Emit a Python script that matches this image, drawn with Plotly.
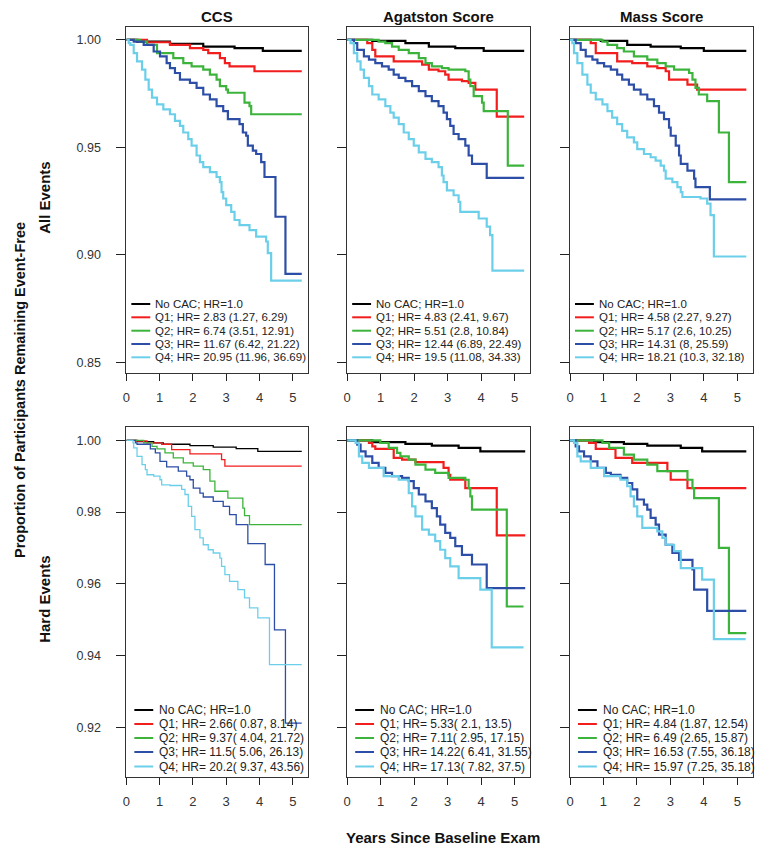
import plotly.graph_objects as go

# Kaplan-Meier style step curves: (years, proportion event-free)
# ---- All events ----
all_ccs_nocac = [(0, 1.0), (0.32, 0.9992), (1.31, 0.9982), (2.31, 0.9969), (3.25, 0.9962), (4.10, 0.9949), (5.27, 0.9949)]
all_ccs_q1 = [(0, 1.0), (0.62, 0.9989), (1.31, 0.9977), (1.91, 0.9962), (2.31, 0.9954), (2.46, 0.9938), (2.81, 0.9915),
              (2.96, 0.9892), (3.10, 0.9877), (3.85, 0.9854), (5.27, 0.9854)]
all_ccs_q2 = [(0, 1.0), (0.42, 0.9992), (0.62, 0.9977), (0.92, 0.9938), (1.41, 0.9915), (1.71, 0.9892), (1.96, 0.9877),
              (2.31, 0.9862), (2.51, 0.9838), (2.71, 0.9815), (2.81, 0.9785), (3.00, 0.9769), (3.05, 0.9754),
              (3.55, 0.9708), (3.70, 0.9692), (3.75, 0.9654), (5.27, 0.9654)]
all_ccs_q3 = [(0, 1.0), (0.22, 0.9992), (0.52, 0.9977), (0.82, 0.9946), (1.01, 0.9923), (1.21, 0.9892), (1.31, 0.9869),
              (1.46, 0.9846), (1.61, 0.9815), (1.91, 0.9800), (2.11, 0.9777), (2.31, 0.9746), (2.51, 0.9723),
              (2.71, 0.9692), (2.91, 0.9669), (3.05, 0.9631), (3.40, 0.9608), (3.50, 0.9569), (3.60, 0.9554),
              (3.65, 0.9508), (3.80, 0.9485), (3.90, 0.9469), (4.05, 0.9431), (4.15, 0.9362), (4.48, 0.9177),
              (4.78, 0.8911), (5.27, 0.8911)]
all_ccs_q4 = [(0, 1.0), (0.07, 0.9985), (0.12, 0.9977), (0.22, 0.9938), (0.32, 0.9900), (0.47, 0.9862), (0.57, 0.9815),
              (0.67, 0.9769), (0.77, 0.9731), (0.92, 0.9700), (1.11, 0.9677), (1.31, 0.9654), (1.46, 0.9623),
              (1.61, 0.9600), (1.71, 0.9569), (1.86, 0.9538), (1.96, 0.9508), (2.11, 0.9462), (2.21, 0.9431),
              (2.31, 0.9408), (2.51, 0.9385), (2.71, 0.9362), (2.81, 0.9338), (2.86, 0.9292), (2.91, 0.9262),
              (3.00, 0.9231), (3.15, 0.9200), (3.25, 0.9162), (3.40, 0.9138), (3.70, 0.9115), (3.90, 0.9085),
              (4.20, 0.9062), (4.25, 0.9008), (4.35, 0.8880), (5.27, 0.8880)]

all_aga_nocac = [(0, 1.0), (0.75, 0.9995), (1.74, 0.9985), (2.44, 0.9969), (3.23, 0.9962), (4.08, 0.9949), (5.29, 0.9949)]
all_aga_q1 = [(0, 1.0), (0.60, 0.9985), (0.75, 0.9954), (0.84, 0.9923), (1.39, 0.9900), (2.24, 0.9885), (2.44, 0.9862),
              (2.73, 0.9854), (2.93, 0.9838), (3.03, 0.9815), (3.43, 0.9808), (3.63, 0.9800), (3.83, 0.9769),
              (4.47, 0.9643), (5.29, 0.9643)]
all_aga_q2 = [(0, 1.0), (0.94, 0.9992), (1.14, 0.9985), (1.34, 0.9969), (1.54, 0.9954), (1.84, 0.9938), (2.14, 0.9915),
              (2.34, 0.9892), (2.53, 0.9877), (2.83, 0.9869), (3.03, 0.9862), (3.53, 0.9854), (3.63, 0.9815),
              (3.68, 0.9785), (3.78, 0.9738), (4.03, 0.9708), (4.08, 0.9669), (4.80, 0.9415), (5.29, 0.9415)]
all_aga_q3 = [(0, 1.0), (0.20, 0.9985), (0.30, 0.9954), (0.50, 0.9923), (0.65, 0.9908), (0.84, 0.9892), (1.04, 0.9877),
              (1.24, 0.9862), (1.39, 0.9838), (1.54, 0.9823), (1.74, 0.9808), (1.94, 0.9785), (2.14, 0.9762),
              (2.34, 0.9738), (2.53, 0.9715), (2.73, 0.9692), (2.88, 0.9662), (2.98, 0.9631), (3.08, 0.9600),
              (3.18, 0.9562), (3.33, 0.9538), (3.53, 0.9508), (3.63, 0.9462), (3.73, 0.9423), (4.17, 0.9358),
              (5.29, 0.9358)]
all_aga_q4 = [(0, 1.0), (0.10, 0.9985), (0.20, 0.9938), (0.30, 0.9900), (0.40, 0.9862), (0.50, 0.9823), (0.65, 0.9785),
              (0.75, 0.9746), (0.94, 0.9723), (1.14, 0.9692), (1.29, 0.9662), (1.39, 0.9638), (1.54, 0.9608),
              (1.69, 0.9569), (1.84, 0.9538), (1.99, 0.9508), (2.14, 0.9477), (2.34, 0.9446), (2.53, 0.9431),
              (2.73, 0.9408), (2.83, 0.9369), (2.88, 0.9338), (2.98, 0.9300), (3.18, 0.9277), (3.33, 0.9246),
              (3.38, 0.9200), (3.93, 0.9169), (4.17, 0.9131), (4.27, 0.9092), (4.34, 0.8926), (5.29, 0.8926)]

all_mass_nocac = [(0, 1.0), (0.92, 0.9995), (1.71, 0.9977), (2.41, 0.9969), (3.31, 0.9962), (4.00, 0.9949), (5.27, 0.9949)]
all_mass_q1 = [(0, 1.0), (0.62, 0.9985), (0.77, 0.9938), (1.41, 0.9900), (1.86, 0.9892), (2.31, 0.9877), (2.61, 0.9869),
               (2.86, 0.9854), (2.96, 0.9815), (3.51, 0.9792), (3.80, 0.9769), (5.27, 0.9769)]
all_mass_q2 = [(0, 1.0), (0.97, 0.9992), (1.12, 0.9977), (1.41, 0.9962), (1.61, 0.9946), (1.91, 0.9923), (2.31, 0.9908),
               (2.61, 0.9892), (2.86, 0.9877), (3.11, 0.9862), (3.56, 0.9846), (3.66, 0.9815), (3.75, 0.9777),
               (3.85, 0.9746), (4.10, 0.9715), (4.45, 0.9569), (4.75, 0.9338), (5.27, 0.9338)]
all_mass_q3 = [(0, 1.0), (0.17, 0.9985), (0.32, 0.9954), (0.47, 0.9923), (0.67, 0.9908), (0.82, 0.9892), (1.02, 0.9877),
               (1.22, 0.9862), (1.41, 0.9838), (1.56, 0.9815), (1.76, 0.9792), (1.91, 0.9769), (2.11, 0.9746),
               (2.31, 0.9723), (2.51, 0.9692), (2.66, 0.9662), (2.81, 0.9631), (2.96, 0.9592), (3.01, 0.9554),
               (3.16, 0.9508), (3.26, 0.9462), (3.31, 0.9423), (3.51, 0.9392), (3.71, 0.9354), (3.75, 0.9315),
               (4.18, 0.9258), (5.27, 0.9258)]
all_mass_q4 = [(0, 1.0), (0.07, 0.9985), (0.12, 0.9938), (0.22, 0.9892), (0.37, 0.9838), (0.52, 0.9792), (0.62, 0.9754),
               (0.77, 0.9723), (0.97, 0.9700), (1.12, 0.9669), (1.26, 0.9638), (1.41, 0.9608), (1.56, 0.9577),
               (1.71, 0.9546), (1.91, 0.9523), (2.01, 0.9492), (2.21, 0.9469), (2.41, 0.9454), (2.56, 0.9438),
               (2.71, 0.9415), (2.81, 0.9392), (2.86, 0.9354), (3.06, 0.9338), (3.21, 0.9315), (3.31, 0.9292),
               (3.36, 0.9269), (3.90, 0.9262), (4.10, 0.9238), (4.20, 0.9185), (4.30, 0.8992), (5.27, 0.8992)]

# ---- Hard events ----
hard_ccs_nocac = [(0, 1.0), (0.32, 0.9996), (0.82, 0.9993), (1.11, 0.9989), (1.91, 0.9985), (2.61, 0.9981),
                  (3.30, 0.9977), (3.95, 0.9969), (5.27, 0.9969)]
hard_ccs_q1 = [(0, 1.0), (0.32, 0.9998), (0.62, 0.9993), (1.06, 0.9989), (1.36, 0.9974), (1.91, 0.9962), (2.86, 0.9946),
               (2.96, 0.9928), (5.27, 0.9928)]
hard_ccs_q2 = [(0, 1.0), (0.52, 0.9993), (0.77, 0.9983), (0.92, 0.9976), (1.16, 0.9965), (1.41, 0.9951), (1.71, 0.9937),
               (2.01, 0.9928), (2.31, 0.9918), (2.51, 0.9886), (2.66, 0.9858), (3.05, 0.9839), (3.50, 0.9811),
               (3.55, 0.9790), (3.70, 0.9765), (5.27, 0.9765)]
hard_ccs_q3 = [(0, 1.0), (0.27, 0.9993), (0.32, 0.9989), (0.72, 0.9976), (0.87, 0.9965), (1.01, 0.9941), (1.21, 0.9926),
               (1.56, 0.9914), (1.81, 0.9900), (1.91, 0.9890), (2.01, 0.9867), (2.21, 0.9853), (2.31, 0.9842),
               (2.61, 0.9830), (2.91, 0.9816), (3.10, 0.9793), (3.30, 0.9765), (3.65, 0.9712), (4.17, 0.9654),
               (4.45, 0.9472), (4.78, 0.9212), (5.27, 0.9212)]
hard_ccs_q4 = [(0, 1.0), (0.20, 0.9993), (0.22, 0.9979), (0.32, 0.9955), (0.47, 0.9932), (0.57, 0.9918), (0.62, 0.9904),
               (0.82, 0.9900), (1.01, 0.9890), (1.06, 0.9876), (1.31, 0.9874), (1.66, 0.9863), (1.76, 0.9849),
               (1.86, 0.9816), (1.96, 0.9788), (2.06, 0.9751), (2.21, 0.9728), (2.31, 0.9709), (2.46, 0.9695),
               (2.61, 0.9686), (2.81, 0.9672), (2.86, 0.9649), (2.96, 0.9626), (3.10, 0.9607), (3.35, 0.9584),
               (3.55, 0.9561), (3.70, 0.9533), (3.95, 0.9505), (4.30, 0.9375), (5.27, 0.9375)]

hard_aga_nocac = [(0, 1.0), (0.75, 0.9995), (1.74, 0.9990), (2.53, 0.9985), (3.33, 0.9979), (3.98, 0.9969), (5.32, 0.9969)]
hard_aga_q1 = [(0, 1.0), (0.65, 0.9993), (0.75, 0.9983), (0.84, 0.9976), (1.39, 0.9951), (1.64, 0.9946), (2.04, 0.9939),
               (2.88, 0.9923), (3.03, 0.9904), (3.08, 0.9890), (3.53, 0.9867), (4.47, 0.9735), (5.32, 0.9735)]
hard_aga_q2 = [(0, 1.0), (0.99, 0.9993), (1.24, 0.9979), (1.49, 0.9965), (1.59, 0.9955), (1.84, 0.9946), (2.04, 0.9932),
               (2.34, 0.9918), (2.63, 0.9909), (3.03, 0.9895), (3.53, 0.9890), (3.63, 0.9867), (3.68, 0.9844),
               (3.73, 0.9807), (4.77, 0.9537), (5.27, 0.9537)]
hard_aga_q3 = [(0, 1.0), (0.30, 0.9988), (0.40, 0.9969), (0.55, 0.9955), (0.75, 0.9937), (0.94, 0.9923), (1.14, 0.9909),
               (1.34, 0.9900), (1.64, 0.9895), (1.84, 0.9886), (1.99, 0.9867), (2.14, 0.9849), (2.34, 0.9830),
               (2.53, 0.9811), (2.68, 0.9788), (2.78, 0.9765), (2.93, 0.9742), (3.08, 0.9728), (3.23, 0.9705),
               (3.43, 0.9681), (3.73, 0.9654), (4.17, 0.9588), (5.32, 0.9588)]
hard_aga_q4 = [(0, 1.0), (0.25, 0.9993), (0.35, 0.9955), (0.45, 0.9937), (0.65, 0.9923), (1.09, 0.9900), (1.54, 0.9890),
               (1.84, 0.9853), (1.94, 0.9816), (2.04, 0.9788), (2.24, 0.9751), (2.44, 0.9737), (2.63, 0.9719),
               (2.78, 0.9695), (2.93, 0.9672), (3.08, 0.9649), (3.33, 0.9616), (3.98, 0.9584), (4.32, 0.9423),
               (5.27, 0.9423)]

hard_mass_nocac = [(0, 1.0), (0.72, 0.9995), (1.61, 0.9990), (2.31, 0.9985), (3.31, 0.9979), (3.95, 0.9969), (5.27, 0.9969)]
hard_mass_q1 = [(0, 1.0), (0.57, 0.9993), (0.77, 0.9976), (1.36, 0.9951), (1.86, 0.9937), (2.91, 0.9914), (3.01, 0.9890),
                (3.51, 0.9867), (5.27, 0.9867)]
hard_mass_q2 = [(0, 1.0), (0.97, 0.9993), (1.17, 0.9979), (1.61, 0.9960), (1.91, 0.9946), (2.31, 0.9932), (2.61, 0.9914),
                (3.51, 0.9890), (3.66, 0.9867), (3.71, 0.9839), (4.45, 0.9700), (4.75, 0.9463), (5.27, 0.9463)]
hard_mass_q3 = [(0, 1.0), (0.17, 0.9983), (0.27, 0.9969), (0.42, 0.9955), (0.62, 0.9941), (0.82, 0.9923), (1.07, 0.9909),
                (1.22, 0.9904), (1.51, 0.9895), (1.71, 0.9881), (1.86, 0.9863), (2.01, 0.9835), (2.21, 0.9821),
                (2.31, 0.9807), (2.41, 0.9784), (2.56, 0.9765), (2.66, 0.9737), (2.86, 0.9709), (3.06, 0.9686),
                (3.26, 0.9667), (3.66, 0.9640), (3.71, 0.9584), (4.10, 0.9525), (5.27, 0.9525)]
hard_mass_q4 = [(0, 1.0), (0.12, 0.9993), (0.22, 0.9955), (0.32, 0.9941), (0.62, 0.9923), (1.02, 0.9900), (1.51, 0.9890),
                (1.71, 0.9872), (1.81, 0.9844), (1.91, 0.9816), (2.01, 0.9788), (2.16, 0.9756), (2.61, 0.9746),
                (2.76, 0.9728), (2.86, 0.9709), (3.11, 0.9691), (3.31, 0.9644), (3.95, 0.9612), (4.30, 0.9446),
                (5.25, 0.9446)]

# legend texts
hr_all_ccs = ["No CAC; HR=1.0", "Q1; HR= 2.83 (1.27, 6.29)", "Q2; HR= 6.74 (3.51, 12.91)",
              "Q3; HR= 11.67 (6.42, 21.22)", "Q4; HR= 20.95 (11.96, 36.69)"]
hr_all_aga = ["No CAC; HR=1.0", "Q1; HR= 4.83 (2.41, 9.67)", "Q2; HR= 5.51 (2.8, 10.84)",
              "Q3; HR= 12.44 (6.89, 22.49)", "Q4; HR= 19.5 (11.08, 34.33)"]
hr_all_mass = ["No CAC; HR=1.0", "Q1; HR= 4.58 (2.27, 9.27)", "Q2; HR= 5.17 (2.6, 10.25)",
               "Q3; HR= 14.31 (8, 25.59)", "Q4; HR= 18.21 (10.3, 32.18)"]
hr_hard_ccs = ["No CAC; HR=1.0", "Q1; HR= 2.66( 0.87, 8.14)", "Q2; HR= 9.37( 4.04, 21.72)",
               "Q3; HR= 11.5( 5.06, 26.13)", "Q4; HR= 20.2( 9.37, 43.56)"]
hr_hard_aga = ["No CAC; HR=1.0", "Q1; HR= 5.33( 2.1, 13.5)", "Q2; HR= 7.11( 2.95, 17.15)",
               "Q3; HR= 14.22( 6.41, 31.55)", "Q4; HR= 17.13( 7.82, 37.5)"]
hr_hard_mass = ["No CAC; HR=1.0", "Q1; HR= 4.84 (1.87, 12.54)", "Q2; HR= 6.49 (2.65, 15.87)",
                "Q3; HR= 16.53 (7.55, 36.18)", "Q4; HR= 15.97 (7.25, 35.18)"]

col_titles = ["CCS", "Agatston Score", "Mass Score"]
row_titles = ["All Events", "Hard Events"]
x_ticks = [0, 1, 2, 3, 4, 5]
y_ticks_all = [0.85, 0.90, 0.95, 1.00]
y_ticks_hard = [0.92, 0.94, 0.96, 0.98, 1.00]

colors = ["#000000", "#f21d1d", "#3cb43c", "#2c4ea6", "#6ccfea"]

# the page body keeps an 8px margin, so the figure is a little smaller than the window
PAD = 8
W, H = 764 - 2 * PAD, 853 - 2 * PAD
FONT = "Liberation Sans, Arial, sans-serif"


def px_x(v):
    # window pixel -> paper fraction
    return (v - PAD) / W


def px_y(v):
    return 1 - (v - PAD) / H


panels = [
    # (curves, legend, col, row)
    ([all_ccs_nocac, all_ccs_q1, all_ccs_q2, all_ccs_q3, all_ccs_q4], hr_all_ccs, 0, 0),
    ([all_aga_nocac, all_aga_q1, all_aga_q2, all_aga_q3, all_aga_q4], hr_all_aga, 1, 0),
    ([all_mass_nocac, all_mass_q1, all_mass_q2, all_mass_q3, all_mass_q4], hr_all_mass, 2, 0),
    ([hard_ccs_nocac, hard_ccs_q1, hard_ccs_q2, hard_ccs_q3, hard_ccs_q4], hr_hard_ccs, 0, 1),
    ([hard_aga_nocac, hard_aga_q1, hard_aga_q2, hard_aga_q3, hard_aga_q4], hr_hard_aga, 1, 1),
    ([hard_mass_nocac, hard_mass_q1, hard_mass_q2, hard_mass_q3, hard_mass_q4], hr_hard_mass, 2, 1),
]

col_px = [(123, 306), (345, 529), (569, 753)]
row_px = [(27, 373), (427, 777)]
y_ranges = [[0.845, 1.006], [0.9062, 1.0037]]
legend_rows = [[304, 317.3, 330.7, 344, 357.3], [710, 724, 738, 752, 766.5]]

fig = go.Figure()
annotations = []
shapes = []
layout_axes = {}

for i, (curves, legend, c, r) in enumerate(panels):
    n = i + 1
    xa = "x" if n == 1 else f"x{n}"
    ya = "y" if n == 1 else f"y{n}"
    lw = 1.3 if (r == 1 and c == 0) else 2.2
    for k, curve in enumerate(curves):
        fig.add_trace(go.Scatter(
            x=[p[0] for p in curve], y=[p[1] for p in curve],
            mode="lines", line=dict(color=colors[k], width=lw, shape="hv"),
            xaxis=xa, yaxis=ya, showlegend=False, hoverinfo="skip"))

    x0, x1 = col_px[c]
    y0, y1 = row_px[r]
    layout_axes["xaxis" if n == 1 else f"xaxis{n}"] = dict(
        domain=[px_x(x0), px_x(x1)], anchor=ya, range=[0, 5.47],
        tickvals=x_ticks, ticks="outside", ticklen=7, tickcolor="#222", tickwidth=1,
        showline=True, mirror=True, linecolor="#333", linewidth=1,
        showgrid=False, zeroline=False, ticklabelstandoff=5,
        tickfont=dict(family=FONT, size=13, color="#333"))
    layout_axes["yaxis" if n == 1 else f"yaxis{n}"] = dict(
        domain=[px_y(y1), px_y(y0)], anchor=xa, range=y_ranges[r],
        tickvals=y_ticks_all if r == 0 else y_ticks_hard, tickformat=".2f",
        ticks="outside", ticklen=9, tickcolor="#222", tickwidth=1,
        showticklabels=(c == 0), ticklabelstandoff=13,
        showline=True, mirror=True, linecolor="#333", linewidth=1,
        showgrid=False, zeroline=False,
        tickfont=dict(family=FONT, size=12.5, color="#333"))

    # legend drawn inside the panel, bottom-left
    if r == 0:
        lx0, lx1, tx, fs = x0 + 5, x0 + 24, x0 + 27, 11.5
    else:
        lx0, lx1, tx, fs = x0 + 8, x0 + 27, x0 + 31, 12
    for k, label in enumerate(legend):
        yy = legend_rows[r][k]
        shapes.append(dict(type="line", xref="paper", yref="paper",
                           x0=px_x(lx0), x1=px_x(lx1), y0=px_y(yy), y1=px_y(yy),
                           line=dict(color=colors[k], width=2)))
        annotations.append(dict(text=label, xref="paper", yref="paper",
                                x=px_x(tx), y=px_y(yy), xanchor="left", yanchor="middle",
                                showarrow=False, font=dict(family=FONT, size=fs, color="#222")))

for c, title in enumerate(col_titles):
    x0, x1 = col_px[c]
    annotations.append(dict(text=f"<b>{title}</b>", xref="paper", yref="paper",
                            x=px_x((x0 + x1) / 2), y=px_y(16), xanchor="center", yanchor="middle",
                            showarrow=False, font=dict(family=FONT, size=15, color="#111")))

for r, title in enumerate(row_titles):
    y0, y1 = row_px[r]
    annotations.append(dict(text=f"<b>{title}</b>", xref="paper", yref="paper", textangle=-90,
                            x=px_x(40), y=px_y((y0 + y1) / 2 - 3), xanchor="center", yanchor="middle",
                            showarrow=False, font=dict(family=FONT, size=15, color="#111")))

annotations.append(dict(text="<b>Proportion of Participants Remaining Event-Free</b>", xref="paper", yref="paper",
                        textangle=-90, x=px_x(16), y=px_y(390), xanchor="center", yanchor="middle",
                        showarrow=False, font=dict(family=FONT, size=14.5, color="#111")))
annotations.append(dict(text="<b>Years Since Baseline Exam</b>", xref="paper", yref="paper",
                        x=px_x(441), y=px_y(837), xanchor="center", yanchor="middle",
                        showarrow=False, font=dict(family=FONT, size=15, color="#111")))

fig.update_layout(
    width=W, height=H, margin=dict(l=0, r=0, t=0, b=0),
    paper_bgcolor="white", plot_bgcolor="white",
    annotations=annotations, shapes=shapes, **layout_axes)

fig.write_html("out.html")
